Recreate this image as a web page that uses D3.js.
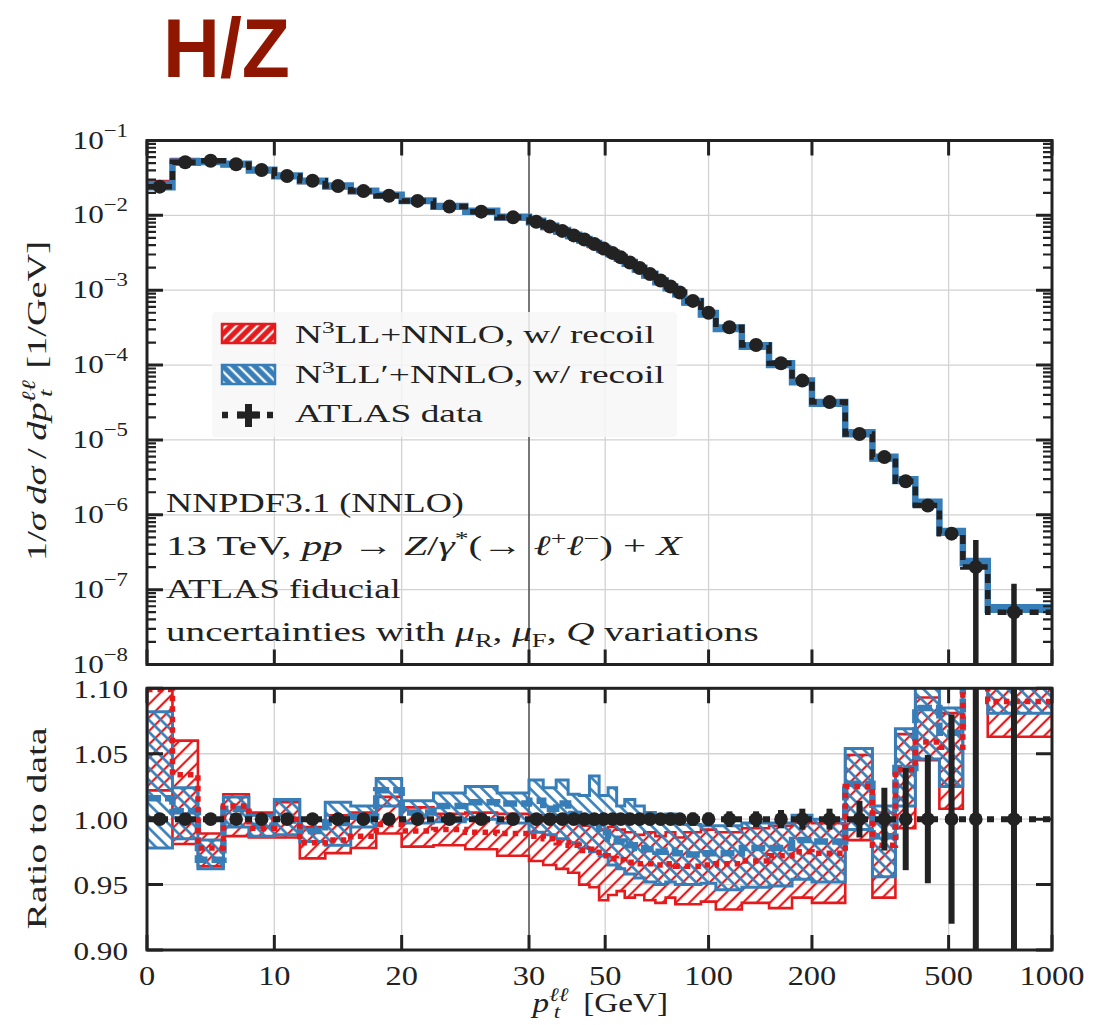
<!DOCTYPE html>
<html>
<head>
<meta charset="utf-8">
<script src="https://cdn.jsdelivr.net/npm/d3@7"></script>
<style>
  html, body { margin: 0; padding: 0; background: #fff; }
  svg { display: block; }
  text { font-family: "Liberation Serif", "DejaVu Serif", serif; fill: #222; }
</style>
</head>
<body>
<svg id="chart" width="1116" height="1025"></svg>
<script>
// ---- ATLAS 13 TeV Z/gamma* pT(ll) binning (GeV) ----
const binEdges = [0, 2, 4, 6, 8, 10, 12, 14, 16, 18, 20, 22.5, 25, 27.5, 30,
  33, 36, 39, 42, 45, 48, 51, 54, 57, 61, 65, 70, 75, 80, 85, 95, 105, 125,
  150, 175, 200, 250, 300, 350, 400, 470, 550, 650, 900];

// normalised data 1/sigma dsigma/dpT [1/GeV]
const dataValue = [0.0242, 0.0512, 0.0537, 0.0481, 0.0404, 0.0336, 0.0290,
  0.0247, 0.0211, 0.0183, 0.0156, 0.0131, 0.0112, 0.0094, 0.0082, 0.0071,
  0.0062, 0.0054, 0.00475, 0.00415, 0.0036, 0.00315, 0.00275, 0.00235,
  0.00198, 0.00165, 0.00135, 0.00112, 0.00093, 0.00072, 0.0005, 0.00032,
  0.000185, 0.000106, 6.2e-5, 3.2e-5, 1.2e-5, 5.9e-6, 2.8e-6, 1.33e-6,
  5.6e-7, 2.0e-7, 5.0e-8];

// relative total uncertainty of the data
const dataRelErr = [0.004, 0.004, 0.004, 0.004, 0.004, 0.004, 0.004, 0.004,
  0.004, 0.004, 0.004, 0.004, 0.004, 0.004, 0.004, 0.004, 0.004, 0.004,
  0.004, 0.004, 0.004, 0.004, 0.004, 0.004, 0.004, 0.004, 0.004, 0.004,
  0.004, 0.005, 0.005, 0.006, 0.006, 0.007, 0.008, 0.008, 0.014, 0.024,
  0.039, 0.049, 0.08, 1.3, 1.4];

// N3LL+NNLO w/ recoil: ratio to data (lower edge, central, upper edge)
const n3llLo = [1.022, 0.981, 0.964, 0.987, 0.986, 0.986, 0.970, 0.974, 0.978,
  0.989, 0.979, 0.980, 0.977, 0.972, 0.968, 0.965, 0.962, 0.959, 0.950,
  0.948, 0.938, 0.942, 0.945, 0.940, 0.942, 0.938, 0.936, 0.940, 0.935,
  0.935, 0.937, 0.931, 0.936, 0.932, 0.940, 0.936, 0.984, 0.940, 0.993,
  1.045, 1.008, 1.120, 1.063];
const n3llMid = [1.099, 1.034, 0.978, 1.010, 0.993, 1.000, 0.982, 0.984, 0.987,
  0.996, 0.991, 0.992, 0.990, 0.989, 0.987, 0.985, 0.982, 0.980, 0.976,
  0.977, 0.972, 0.970, 0.969, 0.967, 0.966, 0.966, 0.965, 0.966, 0.964,
  0.964, 0.965, 0.966, 0.968, 0.972, 0.975, 0.974, 1.025, 0.980, 1.038,
  1.059, 1.055, 1.160, 1.090];
const n3llHi = [1.140, 1.060, 0.989, 1.019, 1.005, 1.013, 0.994, 1.003, 1.005,
  1.017, 1.009, 1.004, 1.005, 1.004, 1.003, 1.002, 1.000, 0.998, 0.995,
  0.998, 0.992, 0.994, 0.992, 0.990, 0.988, 0.990, 0.987, 0.990, 0.986,
  0.990, 0.992, 0.990, 0.993, 0.995, 0.998, 0.997, 1.049, 1.005, 1.065,
  1.093, 1.081, 1.200, 1.140];

// N3LL'+NNLO w/ recoil: ratio to data
const n3llpLo = [0.978, 0.985, 0.962, 0.994, 0.987, 0.988, 0.983, 0.980, 0.994,
  1.010, 0.997, 0.998, 1.000, 0.997, 0.990, 0.988, 0.985, 0.982, 0.978,
  0.975, 0.972, 0.965, 0.962, 0.958, 0.955, 0.952, 0.950, 0.952, 0.950,
  0.950, 0.951, 0.946, 0.948, 0.949, 0.954, 0.952, 0.992, 0.956, 1.010,
  1.046, 1.025, 1.130, 1.081];
const n3llpMid = [1.016, 1.006, 0.969, 1.008, 0.995, 0.999, 0.991, 0.997, 1.002,
  1.022, 1.005, 1.010, 1.013, 1.012, 1.014, 1.008, 1.012, 1.004, 1.000,
  0.997, 0.990, 0.985, 0.983, 0.980, 0.978, 0.977, 0.975, 0.976, 0.974,
  0.973, 0.974, 0.974, 0.978, 0.978, 0.984, 0.983, 1.027, 0.987, 1.039,
  1.085, 1.066, 1.170, 1.120];
const n3llpHi = [1.082, 1.024, 0.984, 1.017, 1.003, 1.015, 0.999, 1.013, 1.010,
  1.031, 1.014, 1.020, 1.025, 1.020, 1.030, 1.024, 1.030, 1.019, 1.018,
  1.033, 1.018, 1.024, 1.010, 1.015, 1.010, 1.005, 1.002, 1.004, 1.000,
  0.996, 0.995, 0.995, 0.997, 0.997, 1.003, 1.000, 1.054, 1.010, 1.069,
  1.120, 1.085, 1.210, 1.160];

// axis ticks
const xTickValues = [0, 10, 20, 30, 50, 100, 200, 500, 1000];
const xGridValues = [10, 20, 50, 100, 200, 500];
const ratioTickValues = [0.90, 0.95, 1.00, 1.05, 1.10];
const ratioGridValues = [0.95, 1.00, 1.05];
const decadeExponents = [-8, -7, -6, -5, -4, -3, -2, -1];
const minorMantissas = [2, 3, 4, 5, 6, 7, 8, 9];

// ---- layout ----
const RED = '#e41a1c', BLUE = '#377eb8', INK = '#222';
const L = 147, R = 1052, XB = 529;
const topT = 140.5, topB = 664.5, ratT = 688.3, ratB = 950;
const STRETCH = 1.2;   // wide serif face for tick numbers

const xBreak = 30, xMax = xTickValues[xTickValues.length - 1];
const xLin = d3.scaleLinear().domain([0, xBreak]).range([L, XB]);
const xLog = d3.scaleLog().domain([xBreak, xMax]).range([XB, R]);
const x = v => (v <= xBreak ? xLin(v) : xLog(v));
const yTop = d3.scaleLog().domain([1e-8, 1e-1]).range([topB, topT]);
const yRat = d3.scaleLinear().domain([0.9, 1.1]).range([ratB, ratT]);

const nBins = dataValue.length;
const steps = d3.range(nBins).map(i => ({ e: binEdges[i], i }))
  .concat([{ e: binEdges[nBins], i: nBins - 1 }, { e: xMax, i: nBins - 1 }]);
const centers = d3.range(nBins).map(i => (binEdges[i] + binEdges[i + 1]) / 2);

const svg = d3.select('#chart');
const defs = svg.append('defs');

function hatch(id, color, angle, spacing, width) {
  const p = defs.append('pattern').attr('id', id)
    .attr('patternUnits', 'userSpaceOnUse')
    .attr('width', spacing).attr('height', spacing)
    .attr('patternTransform', `rotate(${angle})`);
  p.append('line').attr('x1', spacing / 2).attr('x2', spacing / 2)
    .attr('y1', -1).attr('y2', spacing + 1)
    .attr('stroke', color).attr('stroke-width', width);
}
hatch('hatchRed', RED, 45, 9.5, 2.2);
hatch('hatchBlue', BLUE, -45, 8.5, 2.6);
hatch('hatchRedKey', RED, 45, 7.5, 5.2);
hatch('hatchBlueKey', BLUE, -45, 7.5, 5.2);

defs.append('clipPath').attr('id', 'clipTop').append('rect')
  .attr('x', L).attr('y', topT).attr('width', R - L).attr('height', topB - topT);
defs.append('clipPath').attr('id', 'clipRat').append('rect')
  .attr('x', L).attr('y', ratT).attr('width', R - L).attr('height', ratB - ratT);

// rich text helper: tspans, then stretched along the baseline to a target width
function label(parent, parts, size, o) {
  const g = parent.append('g');
  const t = g.append('text').attr('font-size', size);
  if (o.family) t.style('font-family', o.family);
  if (o.weight) t.attr('font-weight', o.weight);
  if (o.fill) t.style('fill', o.fill);
  parts.forEach(p => {
    const s = t.append('tspan').text(p.t);
    if (p.it) s.attr('font-style', 'italic');
    if (p.fs) s.attr('font-size', p.fs);
    if (p.dx) s.attr('dx', p.dx);
    if (p.dy) s.attr('dy', p.dy);
  });
  const bb = t.node().getBBox();
  const k = o.width ? o.width / bb.width : 1;
  const ox = o.anchor === 'middle' ? bb.x + bb.width / 2 : bb.x;
  g.attr('transform',
    `translate(${o.x},${o.y}) rotate(${o.rot || 0}) scale(${k},1) translate(${-ox},0)`);
  return g;
}

// ---- grids ----
function verticalGrid(g, y0, y1) {
  g.selectAll(null).data(xGridValues).join('line')
    .attr('x1', d => x(d)).attr('x2', d => x(d)).attr('y1', y0).attr('y2', y1)
    .attr('stroke', '#d2d2d2').attr('stroke-width', 1.3);
  g.append('line').attr('x1', x(xBreak)).attr('x2', x(xBreak))
    .attr('y1', y0).attr('y2', y1).attr('stroke', '#555').attr('stroke-width', 1.6);
}
const gGrid = svg.append('g');
gGrid.selectAll(null).data(decadeExponents.slice(1, -1)).join('line')
  .attr('x1', L).attr('x2', R)
  .attr('y1', d => yTop(10 ** d)).attr('y2', d => yTop(10 ** d))
  .attr('stroke', '#d2d2d2').attr('stroke-width', 1.3);
gGrid.selectAll(null).data(ratioGridValues).join('line')
  .attr('x1', L).attr('x2', R)
  .attr('y1', d => yRat(d)).attr('y2', d => yRat(d))
  .attr('stroke', '#d2d2d2').attr('stroke-width', 1.3);
verticalGrid(gGrid.append('g'), topT, topB);
verticalGrid(gGrid.append('g'), ratT, ratB);

// ---- upper panel: spectrum ----
const gTop = svg.append('g').attr('clip-path', 'url(#clipTop)');
function topBand(lo, hi, color, w) {
  const area = d3.area().curve(d3.curveStepAfter)
    .x(d => x(d.e))
    .y0(d => yTop(dataValue[d.i] * lo[d.i]))
    .y1(d => yTop(dataValue[d.i] * hi[d.i]));
  gTop.append('path').datum(steps).attr('d', area)
    .attr('fill', color).attr('stroke', color).attr('stroke-width', w)
    .attr('stroke-linejoin', 'miter');
}
topBand(n3llLo, n3llHi, RED, 5);
topBand(n3llpLo, n3llpHi, BLUE, 6.5);

const dataStepTop = d3.line().curve(d3.curveStepAfter)
  .x(d => x(d.e)).y(d => yTop(dataValue[d.i]));
gTop.append('path').datum(steps).attr('d', dataStepTop)
  .attr('fill', 'none').attr('stroke', INK).attr('stroke-width', 5.5)
  .attr('stroke-dasharray', '9,7');
gTop.selectAll(null).data(d3.range(nBins)).join('line')
  .attr('x1', i => x(centers[i])).attr('x2', i => x(centers[i]))
  .attr('y1', i => yTop(dataValue[i] * (1 + dataRelErr[i])))
  .attr('y2', i => yTop(Math.max(dataValue[i] * (1 - dataRelErr[i]), 1e-12)))
  .attr('stroke', INK).attr('stroke-width', 5.5);
gTop.selectAll(null).data(d3.range(nBins)).join('circle')
  .attr('cx', i => x(centers[i])).attr('cy', i => yTop(dataValue[i]))
  .attr('r', 7).attr('fill', INK);

// ---- lower panel: ratio to data ----
const gRat = svg.append('g').attr('clip-path', 'url(#clipRat)');
function ratioBand(lo, hi, color, pattern, w) {
  const area = d3.area().curve(d3.curveStepAfter)
    .x(d => x(d.e)).y0(d => yRat(lo[d.i])).y1(d => yRat(hi[d.i]));
  gRat.append('path').datum(steps).attr('d', area)
    .attr('fill', `url(#${pattern})`).attr('stroke', color).attr('stroke-width', w);
}
function ratioLine(mid, color, w, dash) {
  const line = d3.line().curve(d3.curveStepAfter)
    .x(d => x(d.e)).y(d => yRat(mid[d.i]));
  gRat.append('path').datum(steps).attr('d', line)
    .attr('fill', 'none').attr('stroke', color).attr('stroke-width', w)
    .attr('stroke-dasharray', dash);
}
ratioBand(n3llLo, n3llHi, RED, 'hatchRed', 2.6);
ratioBand(n3llpLo, n3llpHi, BLUE, 'hatchBlue', 3);
ratioLine(n3llpMid, BLUE, 6.5, '14,4');
ratioLine(n3llMid, RED, 5.5, '5.5,5');

gRat.append('line').attr('x1', x(0)).attr('x2', x(xMax))
  .attr('y1', yRat(1)).attr('y2', yRat(1))
  .attr('stroke', INK).attr('stroke-width', 6).attr('stroke-dasharray', '7,7');
gRat.selectAll(null).data(d3.range(nBins)).join('line')
  .attr('x1', i => x(centers[i])).attr('x2', i => x(centers[i]))
  .attr('y1', i => yRat(1 + dataRelErr[i])).attr('y2', i => yRat(1 - dataRelErr[i]))
  .attr('stroke', INK).attr('stroke-width', 6);
gRat.selectAll(null).data(d3.range(nBins)).join('circle')
  .attr('cx', i => x(centers[i])).attr('cy', yRat(1))
  .attr('r', 6.8).attr('fill', INK);

// ---- frames and ticks ----
const gAx = svg.append('g').attr('stroke', INK);
[[topT, topB], [ratT, ratB]].forEach(([t, b]) => {
  gAx.append('rect').attr('x', L).attr('y', t).attr('width', R - L).attr('height', b - t)
    .attr('fill', 'none').attr('stroke-width', 3);
  gAx.selectAll(null).data(xTickValues).join('path')
    .attr('d', d => `M${x(d)},${b}v-15M${x(d)},${t}v15`)
    .attr('stroke-width', 3);
});
gAx.selectAll(null).data(decadeExponents).join('path')
  .attr('d', d => `M${L},${yTop(10 ** d)}h16M${R},${yTop(10 ** d)}h-16`)
  .attr('stroke-width', 3);
const minorVals = decadeExponents.slice(0, -1)
  .flatMap(e => minorMantissas.map(m => m * 10 ** e));
gAx.selectAll(null).data(minorVals).join('path')
  .attr('d', d => `M${L},${yTop(d)}h9M${R},${yTop(d)}h-9`)
  .attr('stroke-width', 2.2);
gAx.selectAll(null).data(ratioTickValues).join('path')
  .attr('d', d => `M${L},${yRat(d)}h16M${R},${yRat(d)}h-16`)
  .attr('stroke-width', 3);

// tick labels (wide serif numerals)
const gLab = svg.append('g');
gLab.selectAll(null).data(xTickValues).join('text')
  .attr('transform', d => `translate(${x(d)},985) scale(${STRETCH},1)`)
  .attr('text-anchor', 'middle').attr('font-size', 27).text(d => d);
gLab.selectAll(null).data(ratioTickValues).join('text')
  .attr('transform', d => `translate(128,${yRat(d) + 9.5}) scale(${STRETCH},1)`)
  .attr('text-anchor', 'end').attr('font-size', 26).text(d => d.toFixed(2));
const decLab = gLab.selectAll(null).data(decadeExponents).join('text')
  .attr('transform', d => `translate(128,${yTop(10 ** d) + 8}) scale(${STRETCH},1)`)
  .attr('text-anchor', 'end').attr('font-size', 26);
decLab.append('tspan').text('10');
decLab.append('tspan').attr('font-size', 19).attr('dy', -12).text(d => '\u2212' + (-d));

// axis titles
label(svg, [
  { t: '1/' }, { t: '\u03c3', it: 1 }, { t: '\u2009' }, { t: 'd\u03c3', it: 1 }, { t: '\u2009/\u2009' },
  { t: 'dp', it: 1 }, { t: '\u2113\u2113', it: 1, fs: 19, dy: -11 },
  { t: 't', it: 1, fs: 19, dx: -12, dy: 17 }, { t: ' [1/GeV]', dx: 8, dy: -6 }
], 27, { x: 46, y: 401, rot: -90, anchor: 'middle', width: 320 });
label(svg, [{ t: 'Ratio to data' }], 28,
  { x: 46, y: 828, rot: -90, anchor: 'middle', width: 203 });
label(svg, [
  { t: 'p', it: 1 }, { t: '\u2113\u2113', it: 1, fs: 19, dy: -11 },
  { t: 't', it: 1, fs: 19, dx: -12, dy: 17 }, { t: ' [GeV]', dx: 12, dy: -6 }
], 27, { x: 530, y: 1012, width: 138 });

// ---- legend ----
const gLeg = svg.append('g');
gLeg.append('rect').attr('x', 212).attr('y', 312).attr('width', 465).attr('height', 125)
  .attr('rx', 4).attr('fill', '#f7f7f7').attr('fill-opacity', 0.85);
gLeg.append('rect').attr('x', 222).attr('y', 324).attr('width', 53).attr('height', 19)
  .attr('fill', 'url(#hatchRedKey)').attr('stroke', RED).attr('stroke-width', 2.5);
gLeg.append('rect').attr('x', 222).attr('y', 365).attr('width', 53).attr('height', 19)
  .attr('fill', 'url(#hatchBlueKey)').attr('stroke', BLUE).attr('stroke-width', 2.5);
gLeg.append('line').attr('x1', 222).attr('x2', 275).attr('y1', 415).attr('y2', 415)
  .attr('stroke', INK).attr('stroke-width', 6.5).attr('stroke-dasharray', '6,9');
gLeg.append('path').attr('d', 'M237,415H260M248.5,404V427')
  .attr('stroke', INK).attr('stroke-width', 7);
label(gLeg, [{ t: 'N' }, { t: '3', fs: 17, dy: -10 }, { t: 'LL+NNLO, w/ recoil', dy: 10 }],
  25, { x: 295, y: 343, width: 360 });
label(gLeg, [{ t: 'N' }, { t: '3', fs: 17, dy: -10 }, { t: 'LL\u2032+NNLO, w/ recoil', dy: 10 }],
  25, { x: 295, y: 383, width: 370 });
label(gLeg, [{ t: 'ATLAS data' }], 25, { x: 295, y: 422, width: 188 });

// ---- annotations ----
const gNote = svg.append('g');
label(gNote, [{ t: 'NNPDF3.1 (NNLO)' }], 28, { x: 166, y: 512, width: 298 });
label(gNote, [
  { t: '13 TeV, ' }, { t: 'pp', it: 1 }, { t: ' \u2192 ' }, { t: 'Z', it: 1 }, { t: '/' },
  { t: '\u03b3', it: 1 }, { t: '*', fs: 19, dy: -10 }, { t: '(\u2192 ', dy: 10 },
  { t: '\u2113', it: 1 }, { t: '+', fs: 19, dy: -10 }, { t: '\u2113', it: 1, dy: 10 },
  { t: '\u2212', fs: 19, dy: -10 }, { t: ') + ', dy: 10 }, { t: 'X', it: 1 }
], 28, { x: 166, y: 555, width: 517 });
label(gNote, [{ t: 'ATLAS fiducial' }], 28, { x: 166, y: 598, width: 235 });
label(gNote, [
  { t: 'uncertainties with ' }, { t: '\u03bc', it: 1 }, { t: 'R', fs: 19, dy: 6 },
  { t: ', ', dy: -6 }, { t: '\u03bc', it: 1 }, { t: 'F', fs: 19, dy: 6 },
  { t: ', ', dy: -6 }, { t: 'Q', it: 1 }, { t: ' variations' }
], 28, { x: 166, y: 641, width: 593 });

// ---- heading ----
label(svg, [{ t: 'H/Z' }], 84, {
  family: '"Liberation Sans", Arial, sans-serif', weight: 'bold', fill: '#8f1600',
  x: 163, y: 77, width: 127
});
</script>
</body>
</html>
